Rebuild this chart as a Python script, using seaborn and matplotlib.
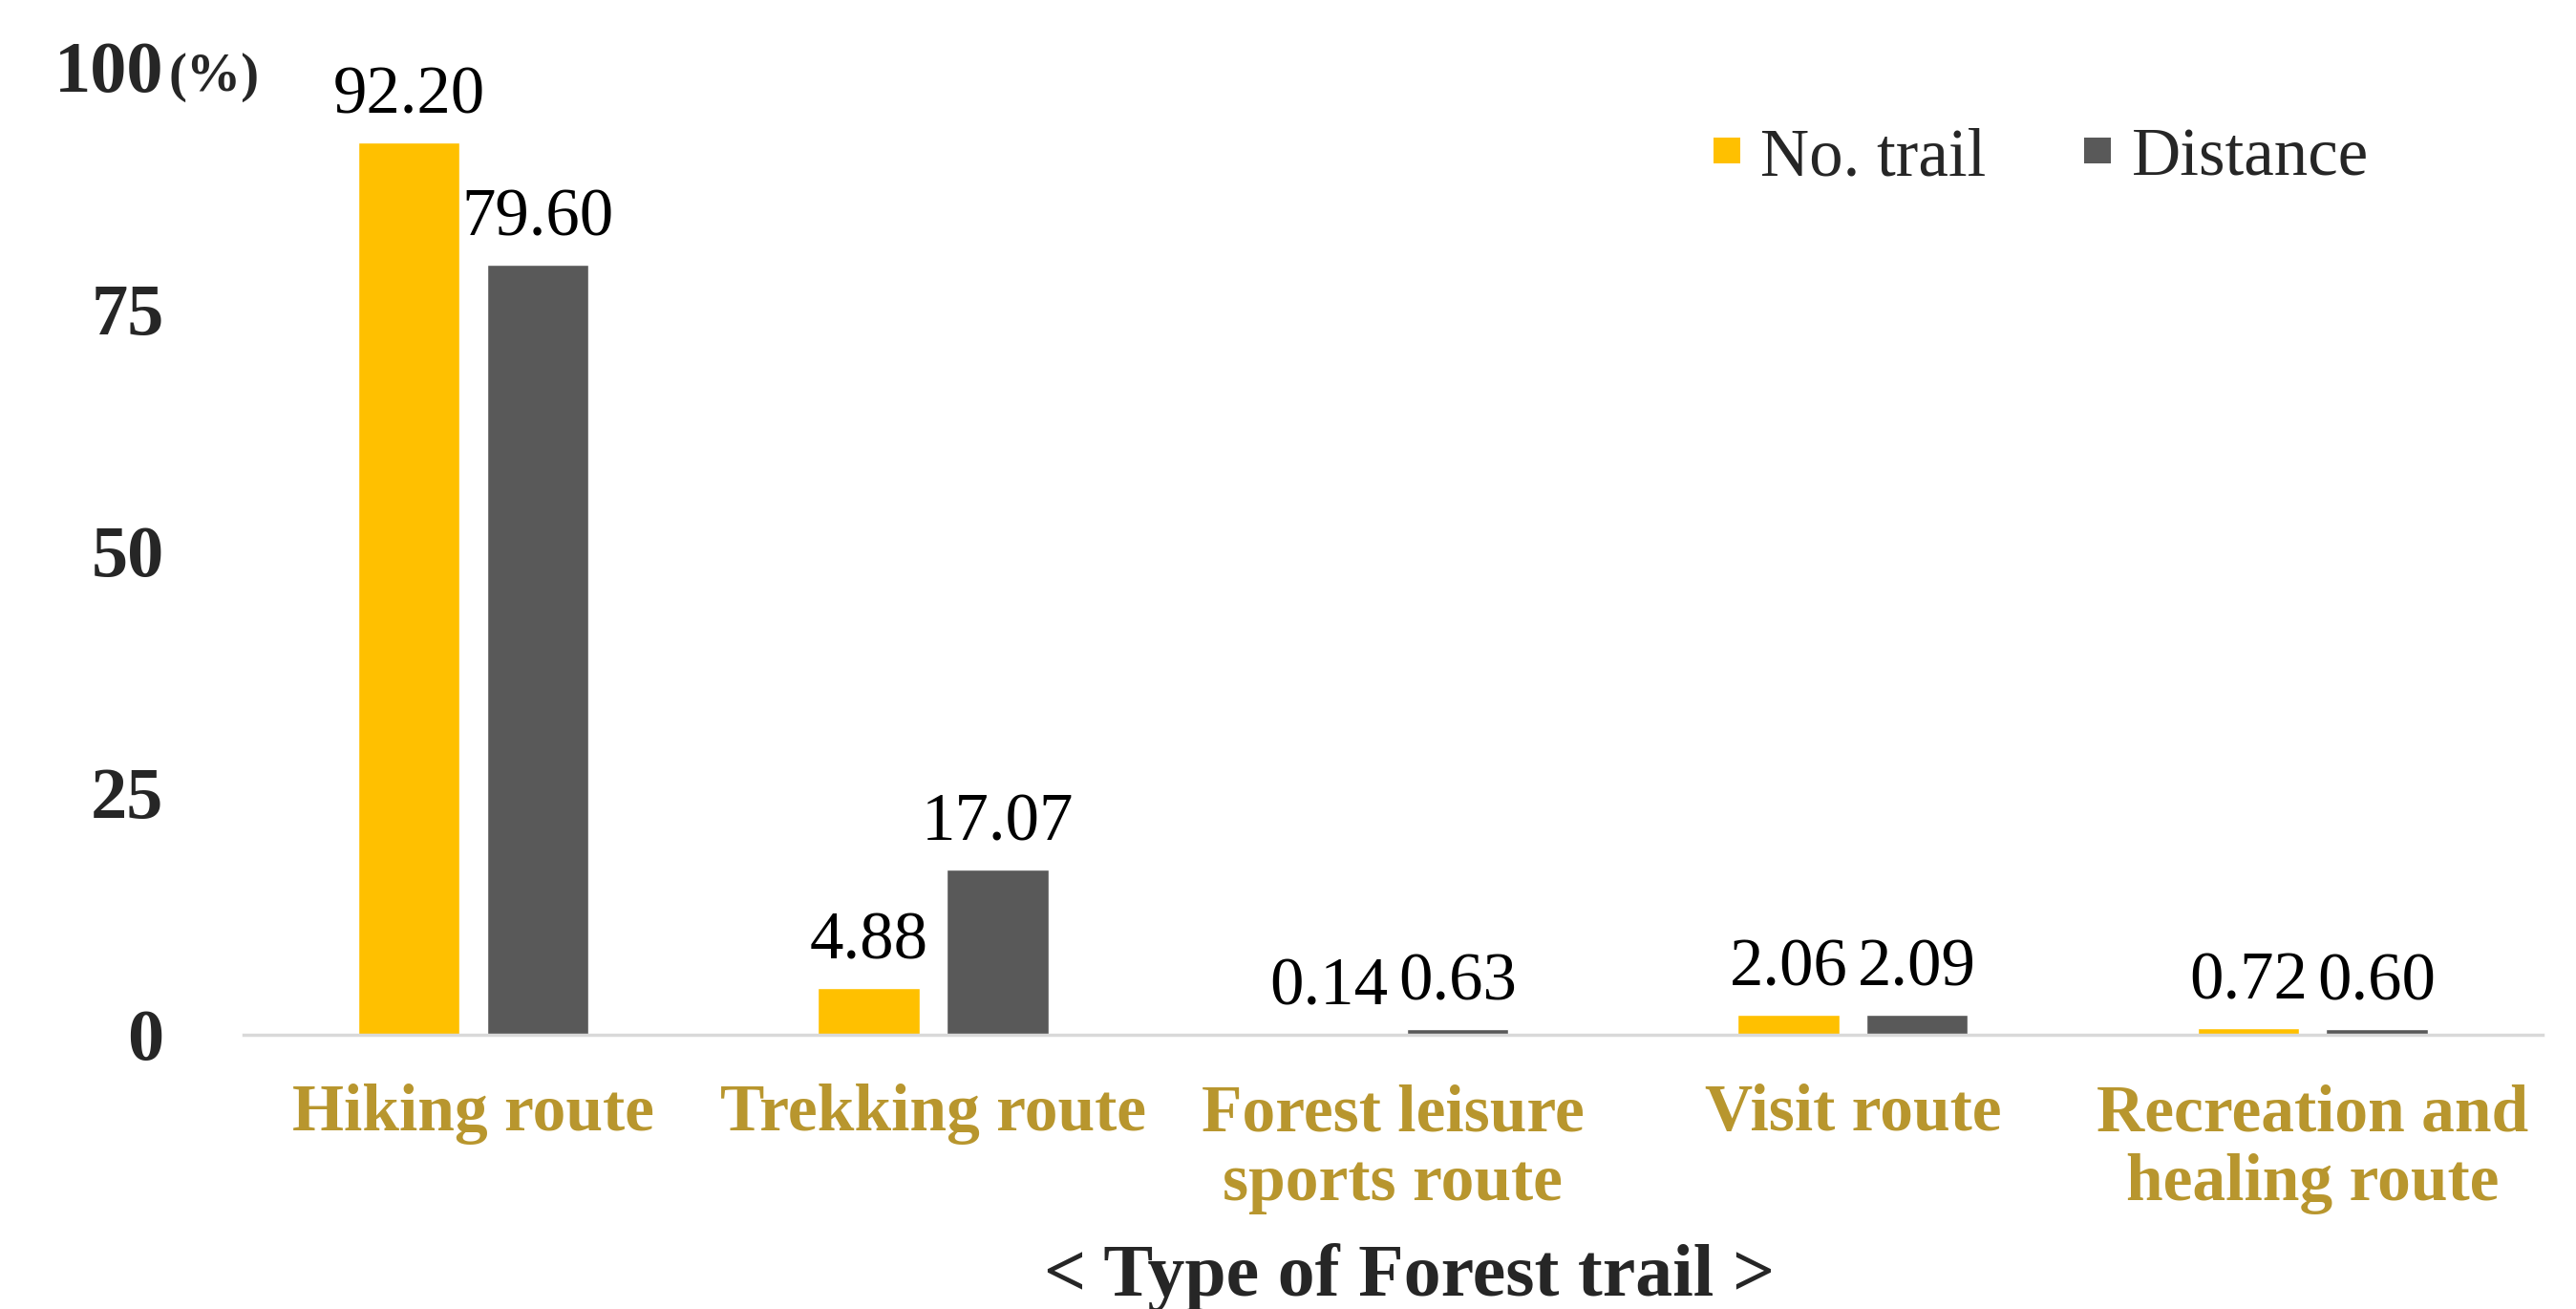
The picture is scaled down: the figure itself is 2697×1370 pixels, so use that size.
import matplotlib
matplotlib.use("Agg")
import matplotlib.pyplot as plt
from matplotlib.patches import Patch
import seaborn as sns
import pandas as pd

categories = ["Hiking route", "Trekking route", "Forest leisure\nsports route",
              "Visit route", "Recreation and\nhealing route"]
series = ["No. trail", "Distance"]
no_trail = [92.20, 4.88, 0.14, 2.06, 0.72]
distance = [79.60, 17.07, 0.63, 2.09, 0.60]
yticks = [0, 25, 50, 75, 100]
colors = ["#FFC000", "#595959"]

df = pd.DataFrame({
    "category": categories * 2,
    "series": [series[0]] * len(categories) + [series[1]] * len(categories),
    "value": no_trail + distance,
})

sns.set_style("white")
plt.rcParams["font.family"] = ["Liberation Serif", "DejaVu Serif"]

fig = plt.figure(figsize=(26.97, 13.70), dpi=100)
ax = fig.add_axes([0.0945, 0.2095, 0.987 - 0.0945, 0.949 - 0.2095])

sns.barplot(data=df, x="category", y="value", hue="series", order=categories,
            hue_order=series, palette=colors, width=0.56, gap=0.21,
            saturation=1, ax=ax, legend=False, errorbar=None)

for cont in ax.containers:
    ax.bar_label(cont, fmt="%.2f", padding=11, fontsize=51, color="#000000")

ax.set_xlim(-0.5, len(categories) - 0.5)
ax.set_ylim(0, 100)
ax.set_yticks(yticks)
ax.set_yticklabels([str(v) for v in yticks], fontsize=55, fontweight="bold")
ax.tick_params(axis="y", length=0, pad=60)
ax.tick_params(axis="x", length=0, pad=37)
for lab in ax.get_xticklabels():
    lab.set_fontsize(50)
    lab.set_fontweight("bold")
    lab.set_color("#B8962E")
    lab.set_linespacing(1.17)

ax.set_xlabel("")
ax.set_ylabel("")
for s in ["top", "right", "left"]:
    ax.spines[s].set_visible(False)
ax.spines["bottom"].set_color("#D9D9D9")
ax.spines["bottom"].set_linewidth(2.5)

fig.text(0.0656, 0.941, "(%)", fontsize=41, fontweight="bold", va="center", ha="left")
fig.text(0.547, 0.024, "< Type of Forest trail >", fontsize=56, fontweight="bold",
         ha="center", va="center")

handles = [Patch(facecolor=c, edgecolor="none", label=s) for c, s in zip(colors, series)]
ax.legend(handles=handles, loc="center left", bbox_to_anchor=(0.665, 0.879),
          bbox_transform=fig.transFigure, ncol=2, frameon=False, fontsize=51,
          handlelength=0.4, handleheight=0.21, handletextpad=0.3,
          columnspacing=1.45, borderpad=0, borderaxespad=0)

fig.savefig("out.png", dpi=100)
